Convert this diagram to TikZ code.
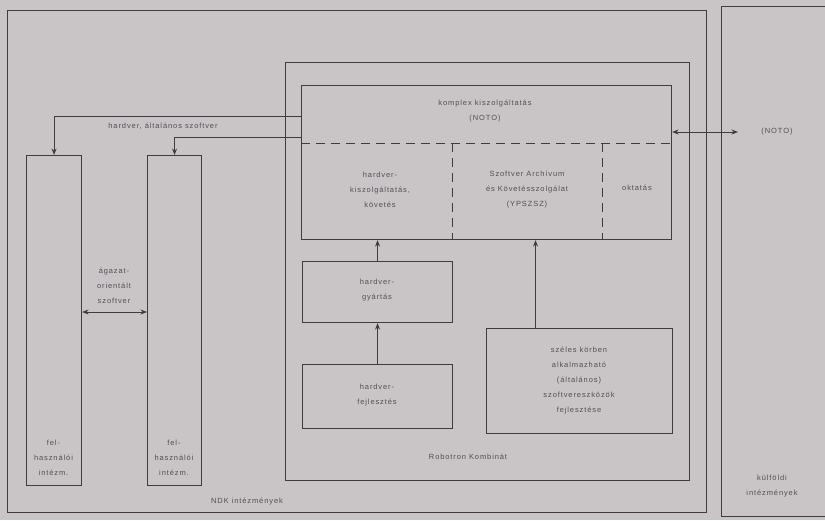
\documentclass[tikz,border=0pt]{standalone}
\usepackage{fontspec}
\setmainfont[LetterSpace=12]{Liberation Sans}
\usetikzlibrary{arrows.meta}
\definecolor{bg}{RGB}{201,197,199}
\definecolor{ink}{RGB}{62,60,64}
\definecolor{txt}{RGB}{80,78,86}
\tikzset{
  box/.style={draw=ink, line width=1.1pt, anchor=north west, inner sep=0pt},
  lbl/.style={text=txt, align=center, inner sep=0pt, font={\fontsize{7.5}{15}\selectfont}},
  conn/.style={draw=ink, line width=1pt, -{Stealth[length=6.5pt,width=5pt]}},
  conn2/.style={draw=ink, line width=1pt, {Stealth[length=6.5pt,width=5pt]}-{Stealth[length=6.5pt,width=5pt]}},
  dsh/.style={draw=ink, line width=1pt, dash pattern=on 9pt off 6pt}
}
\begin{document}
\begin{tikzpicture}[x=1pt,y=-1pt]
\fill[bg] (0,0) rectangle (825,520);
\useasboundingbox (0,0) rectangle (825,520);
% outer frames
\node[box, minimum width=699pt, minimum height=502pt] (ndk) at (7,10) {};
\node[box, line width=0.8pt, minimum width=120pt, minimum height=510pt] (kulf) at (721,6) {};
\node[box, minimum width=404pt, minimum height=418pt] (rob) at (285,62) {};
% komplex
\node[box, minimum width=370pt, minimum height=154pt] (komp) at (301,85) {};
\draw[dsh] (komp.west |- 0,143) -- (komp.east |- 0,143);
\draw[dsh] (452,143) -- (452,239);
\draw[dsh] (602,143) -- (602,239);
% inner boxes
\node[box, minimum width=150pt, minimum height=61pt] (hwgy) at (302,261) {};
\node[box, minimum width=150pt, minimum height=64pt] (hwfej) at (302,364) {};
\node[box, minimum width=186pt, minimum height=105pt] (szel) at (486,328) {};
\node[box, minimum width=55pt, minimum height=330pt] (fel1) at (26,155) {};
\node[box, minimum width=54pt, minimum height=330pt] (fel2) at (147,155) {};
% texts
\node[lbl] (t1) at (485,111) {komplex kiszolgáltatás\\(NOTO)};
\node[lbl] (t2) at (380,190) {hardver-\\kiszolgáltatás,\\követés};
\node[lbl] (t3) at (527,190) {Szoftver Archívum\\és Követésszolgálat\\(YPSZSZ)};
\node[lbl] (t4) at (637,188) {oktatás};
\node[lbl] (t5) at (377,290) {hardver-\\gyártás};
\node[lbl] (t6) at (377,395) {hardver-\\fejlesztés};
\node[lbl] (t7) at (579,381) {széles körben\\alkalmazható\\(általános)\\szoftvereszközök\\fejlesztése};
\node[lbl] (t8) at (53.5,458) {fel-\\használói\\intézm.};
\node[lbl] (t9) at (174,458) {fel-\\használói\\intézm.};
\node[lbl] (t10) at (114,286) {ágazat-\\orientált\\szoftver};
\node[lbl] (t11) at (163,126) {hardver, általános szoftver};
\node[lbl] (t12) at (777,132) {(NOTO)};
\node[lbl] (t13) at (468,457) {Robotron Kombinát};
\node[lbl] (t14) at (247,502) {NDK intézmények};
\node[lbl] (t15) at (772,486) {külföldi\\intézmények};
% connectors
\draw[conn] ([yshift=46pt]komp.west) -| (fel1.north);
\draw[conn] ([yshift=25pt]komp.west) -| (fel2.north);
\coordinate (ag) at (0,312);
\draw[conn2] (fel1.east |- ag) -- (fel2.west |- ag);
\coordinate (noto) at (738,132);
\draw[conn2] (komp.east |- noto) -- (noto);
\draw[conn] (hwfej.north) -- (hwgy.south);
\draw[conn] (hwgy.north) -- (hwgy.north |- komp.south);
\draw[conn] ([xshift=-44pt]szel.north) -- ([xshift=-44pt]szel.north |- komp.south);
\end{tikzpicture}
\end{document}
